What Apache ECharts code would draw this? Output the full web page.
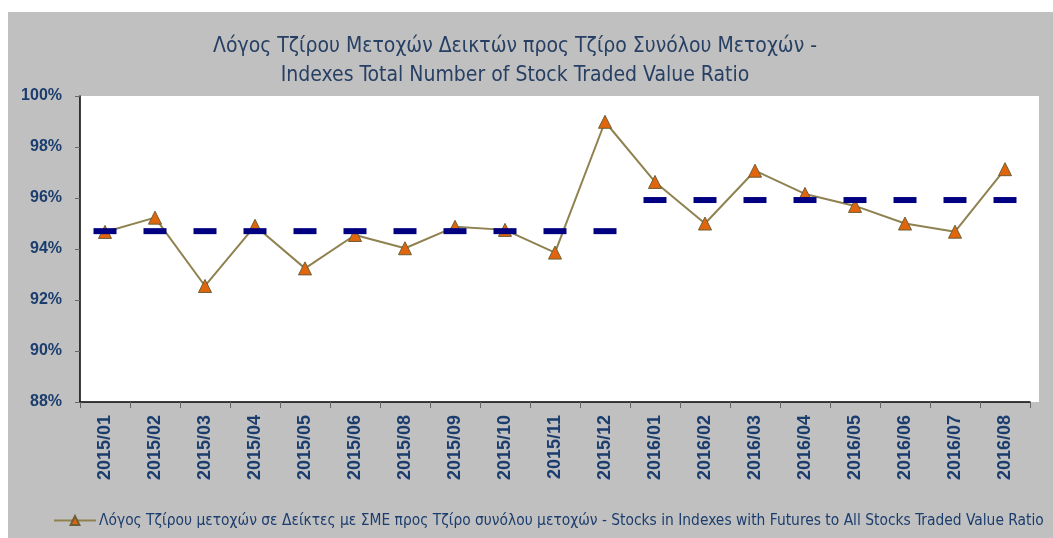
<!DOCTYPE html>
<html>
<head>
<meta charset="utf-8">
<script src="https://cdn.jsdelivr.net/npm/echarts@6/dist/echarts.min.js"></script>
<style>
  html, body { margin: 0; padding: 0; background: #fff; }
  #chart { width: 1053px; height: 538px; }
</style>
</head>
<body>
<div id="chart"></div>
<script>
const categories = ['2015/01', '2015/02', '2015/03', '2015/04', '2015/05', '2015/06', '2015/08', '2015/09',
  '2015/10', '2015/11', '2015/12', '2016/01', '2016/02', '2016/03', '2016/04', '2016/05', '2016/06',
  '2016/07', '2016/08']
const ratioValues = [94.67, 95.23, 92.55, 94.91, 93.24, 94.55, 94.03, 94.87, 94.75, 93.86, 98.99,
  96.63, 95.0, 97.07, 96.16, 95.69, 95.0, 94.68, 97.13]
const yearAvgValues = [94.7, 94.7, 94.7, 94.7, 94.7, 94.7, 94.7, 94.7, 94.7, 94.7, 94.7,
  95.92, 95.92, 95.92, 95.92, 95.92, 95.92, 95.92, 95.92]
const yTicks = [88, 90, 92, 94, 96, 98, 100]

const seriesName = 'Λόγος Τζίρου μετοχών σε Δείκτες με ΣΜΕ προς Τζίρο συνόλου μετοχών - Stocks in Indexes with Futures to All Stocks Traded Value Ratio'

const textColor = '#1B3D6E'
const narrow = "'Liberation Sans Narrow', 'DejaVu Sans Condensed', sans-serif"

const chart = echarts.init(document.getElementById('chart'))

const option = {
  animation: false,
  backgroundColor: '#fff',
  graphic: [
    { type: 'rect', z: -10, shape: { x: 8, y: 12, width: 1045, height: 526 }, style: { fill: '#C0C0C0' } },
    { type: 'rect', z: -9, shape: { x: 80, y: 96, width: 959, height: 306 }, style: { fill: '#fff' } }
  ],
  title: {
    text: 'Λόγος Τζίρου Μετοχών Δεικτών προς Τζίρο Συνόλου Μετοχών -\nIndexes Total Number of Stock Traded Value Ratio',
    left: 510,
    textAlign: 'center',
    top: 27,
    textStyle: {
      fontFamily: narrow,
      fontSize: 21,
      fontWeight: 'normal',
      color: '#263F63',
      lineHeight: 29
    }
  },
  legend: {
    data: [seriesName],
    left: 53,
    top: 513,
    padding: 0,
    itemWidth: 42,
    itemHeight: 11,
    textStyle: {
      fontFamily: narrow,
      fontSize: 15.4,
      color: textColor,
      padding: [0, 0, 0, -2]
    }
  },
  grid: {
    left: 80,
    top: 96,
    right: 23,
    bottom: 136,
    containLabel: false
  },
  xAxis: {
    type: 'category',
    data: categories,
    boundaryGap: true,
    axisLine: { lineStyle: { color: '#000', width: 1.5 } },
    axisTick: { show: true, length: 6, lineStyle: { color: '#666' } },
    axisLabel: {
      rotate: 90,
      margin: 13,
      interval: 0,
      fontFamily: "'Liberation Sans', Arial, sans-serif",
      fontWeight: 'bold',
      fontSize: 18,
      color: textColor
    }
  },
  yAxis: {
    type: 'value',
    min: 88,
    max: 100,
    interval: 2,
    axisLine: { show: true, lineStyle: { color: '#000', width: 1.5 } },
    axisTick: { show: true, inside: false, length: 5, lineStyle: { color: '#666' } },
    splitLine: { show: false },
    axisLabel: {
      margin: 18,
      fontFamily: "'Liberation Sans', Arial, sans-serif",
      fontWeight: 'bold',
      fontSize: 16,
      color: textColor,
      formatter: (v) => yTicks.includes(v) ? v + '%' : ''
    }
  },
  series: [
    {
      name: seriesName,
      type: 'line',
      data: ratioValues,
      z: 2,
      symbol: 'triangle',
      symbolSize: 13,
      lineStyle: { color: '#8F8250', width: 2 },
      itemStyle: { color: '#E0650C', borderColor: '#6E5E34', borderWidth: 1 }
    },
    {
      name: 'avg',
      type: 'line',
      data: yearAvgValues,
      z: 3,
      symbol: 'rect',
      symbolSize: [23, 6],
      lineStyle: { opacity: 0 },
      itemStyle: { color: '#000080' },
      silent: true
    }
  ]
}

chart.setOption(option)
</script>
</body>
</html>
